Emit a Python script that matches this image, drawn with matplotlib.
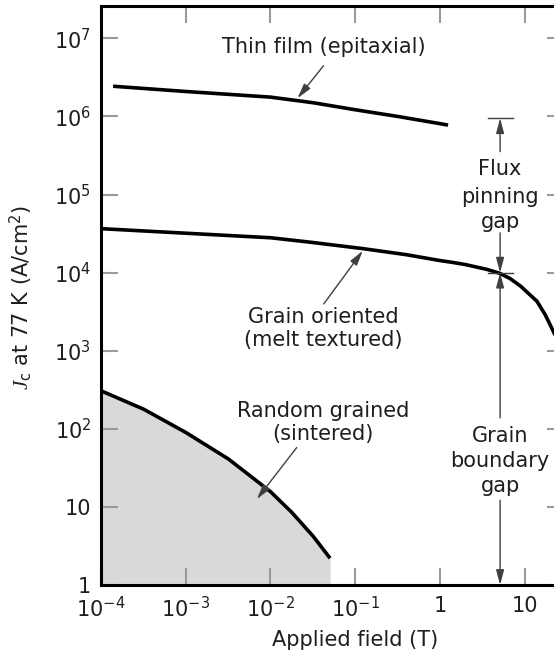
import matplotlib
matplotlib.use("Agg")
import matplotlib.pyplot as plt

plt.rcParams['font.family'] = ['DejaVu Sans']
plt.rcParams['mathtext.fontset'] = 'custom'
plt.rcParams['mathtext.rm'] = 'DejaVu Sans'
plt.rcParams['mathtext.it'] = 'Liberation Serif:italic'

# ---- data ----
thin_x = [1.39e-4, 1e-3, 1e-2, 3.2e-2, 1e-1, 3.2e-1, 1.0, 1.25]
thin_y = [2.44e6, 2.09e6, 1.77e6, 1.5e6, 1.22e6, 1.0e6, 8.1e5, 7.75e5]

grain_x = [1e-4, 1e-3, 1e-2, 3e-2, 0.124, 0.4, 1.0, 1.43, 2.0, 3.6, 5.1, 6.75,
           9.0, 14.0, 17.5, 21.7, 29.0]
grain_y = [3.66e4, 3.2e4, 2.8e4, 2.45e4, 2.03e4, 1.7e4, 1.43e4, 1.35e4, 1.27e4,
           1.1e4, 9.8e3, 8.4e3, 6.7e3, 4.3e3, 2.9e3, 1.8e3, 9.0e2]

rand_x = [1e-4, 3.2e-4, 1e-3, 3.2e-3, 1e-2, 1.78e-2, 3.2e-2, 0.0506]
rand_y = [307, 178, 90, 41, 15.7, 8.55, 4.2, 2.2]

x_ticks = [1e-4, 1e-3, 1e-2, 1e-1, 1, 10]
x_ticklabels = [r'$\mathregular{10^{-4}}$', r'$\mathregular{10^{-3}}$', r'$\mathregular{10^{-2}}$',
                r'$\mathregular{10^{-1}}$', '1', '10']
y_ticks = [1, 10, 1e2, 1e3, 1e4, 1e5, 1e6, 1e7]
y_ticklabels = ['1', '10', r'$\mathregular{10^{2}}$', r'$\mathregular{10^{3}}$', r'$\mathregular{10^{4}}$',
                r'$\mathregular{10^{5}}$', r'$\mathregular{10^{6}}$', r'$\mathregular{10^{7}}$']

gap_x = 5.14
flux_top = 9.5e5
gap_mid = 1e4
gap_bottom = 1.0

TXT = '#1e1e1e'
ARR = '#404040'
FS = 15

fig = plt.figure(figsize=(5.54, 6.56), dpi=100)
ax = fig.add_axes([101/554, 71/656, 463/554, 579/656])
ax.set_xscale('log')
ax.set_yscale('log')
ax.set_xlim(1e-4, 29.2)
ax.set_ylim(1, 2.6e7)

ax.fill_between(rand_x, rand_y, 1, color='#d9d9d9', lw=0, zorder=1)
for xs, ys in [(thin_x, thin_y), (grain_x, grain_y), (rand_x, rand_y)]:
    ax.plot(xs, ys, color='black', lw=2.6, solid_capstyle='butt',
            solid_joinstyle='round', zorder=3)

ax.set_xticks(x_ticks)
ax.set_xticklabels(x_ticklabels)
ax.set_yticks(y_ticks)
ax.set_yticklabels(y_ticklabels)
ax.minorticks_off()
ax.tick_params(which='both', direction='in', length=12, width=1.5, color='#9a9a9a',
               labelsize=FS, labelcolor=TXT, top=True, right=True)
ax.tick_params(axis='y', pad=7)
ax.tick_params(axis='x', pad=8)
for s in ['left', 'bottom', 'top']:
    ax.spines[s].set_linewidth(2.2)
ax.spines['right'].set_visible(False)

ax.set_xlabel('Applied field (T)', fontsize=FS, color=TXT)
ax.xaxis.set_label_coords((355-101)/463, -45/579)
ax.set_ylabel(r'$J_{\mathrm{c}}$ at 77 K (A/cm$^2$)', fontsize=FS, color=TXT)
ax.yaxis.set_label_coords(-67/463, (585-298)/579)

def txt(x, y, s):
    ax.text(x, y, s, ha='center', va='baseline', fontsize=FS, color=TXT, zorder=5)

arrow_style = '-|>,head_length=0.6,head_width=0.16'
def arr(tip, start):
    ax.annotate('', xy=tip, xytext=start,
                arrowprops=dict(arrowstyle=arrow_style, color=ARR, lw=1.0,
                                mutation_scale=15, shrinkA=0, shrinkB=0), zorder=4)

# labels
txt(10**-1.373, 10**6.812, 'Thin film (epitaxial)')
arr((10**-1.68, 10**6.234), (10**-1.373, 10**6.65))

txt(10**-1.38, 10**3.36, 'Grain oriented')
txt(10**-1.38, 10**3.058, '(melt textured)')
arr((10**-0.91, 10**4.28), (10**-1.37, 10**3.60))

txt(10**-1.38, 10**2.149, 'Random grained')
txt(10**-1.38, 10**1.854, '(sintered)')
arr((10**-2.16, 10**1.10), (10**-1.69, 10**1.76))

# flux pinning gap
txt(gap_x, 10**5.25, 'Flux')
txt(gap_x, 10**4.891, 'pinning')
txt(gap_x, 10**4.571, 'gap')
arr((gap_x, flux_top), (gap_x, 10**5.55))
arr((gap_x, gap_mid), (gap_x, 10**4.51))
ax.plot([3.71, 7.31], [flux_top, flux_top], color=ARR, lw=1.0, zorder=4)
ax.plot([3.71, 7.31], [gap_mid, gap_mid], color=ARR, lw=1.0, zorder=4)

# grain boundary gap
txt(gap_x, 10**1.828, 'Grain')
txt(gap_x, 10**1.508, 'boundary')
txt(gap_x, 10**1.188, 'gap')
arr((gap_x, gap_mid), (gap_x, 10**2.14))
arr((gap_x, gap_bottom), (gap_x, 10**1.085))

fig.savefig('out.png', dpi=100)
